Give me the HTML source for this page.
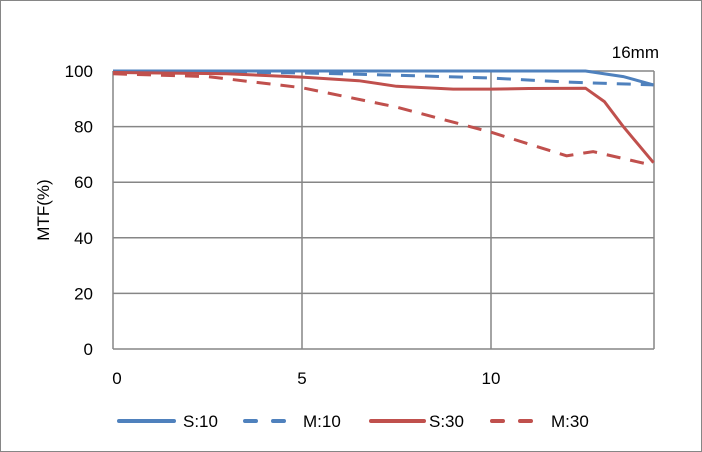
<!DOCTYPE html>
<html><head><meta charset="utf-8"><style>
body{margin:0;background:#fff;font-family:"Liberation Sans",sans-serif}
#c{position:absolute;left:0;top:0;width:700px;height:450px;border:1px solid #868686}
</style></head><body>
<div id="c">
<svg id="s" width="702" height="452" style="position:absolute;left:-1px;top:-1px"></svg>
</div>
<script>
const xTicks=[0,5,10];
const yTicks=[0,20,40,60,80,100];
const xs10=[0,2.5,5,7.5,10,12.5,13.5,14.3];
const s10=[100,100,100,100,100,100,98,95];
const xm10=[0,2.5,5,7.5,10,12,14.3];
const m10=[99.8,99.6,99.3,98.5,97.5,96,95];
const xs30=[0,3,5,6.5,7.5,9,10,11,12.5,13,13.5,14.3];
const s30=[99.5,99,97.8,96.5,94.5,93.5,93.5,93.7,93.8,89,80,67];
const xm30=[0,2.5,5,7.5,10,12,12.7,14.3];
const m30=[99,98,94,87,78,69.5,71,66];
const X=v=>113+v*(491-113)/10;
const Y=v=>349-v*2.78;
const s=document.getElementById('s');
const NS='http://www.w3.org/2000/svg';
function mk(t,a){const e=document.createElementNS(NS,t);for(const k in a)e.setAttribute(k,a[k]);s.appendChild(e);return e;}
yTicks.forEach(v=>{const l=mk('line',{x1:X(0),x2:654,y1:Y(v),y2:Y(v),stroke:'#868686','stroke-width':1.5});


const t=mk('text',{x:93,y:Y(v)+6,'text-anchor':'end','font-size':17,fill:'#000'});t.textContent=v;

});
xTicks.forEach(v=>{const l=mk('line',{x1:X(v),x2:X(v),y1:Y(100),y2:Y(0),stroke:'#868686','stroke-width':1.5});


const t=mk('text',{x:X(v)+(v?0:4),y:384,'text-anchor':'middle','font-size':17});t.textContent=v;

});
const r=mk('line',{x1:654,x2:654,y1:Y(100),y2:Y(0),stroke:'#868686','stroke-width':1.5});


const yt=mk('text',{x:0,y:0,transform:'translate(49,210) rotate(-90)','text-anchor':'middle','font-size':17});yt.textContent='MTF(%)';


const tt=mk('text',{x:659,y:58,'text-anchor':'end','font-size':17});tt.textContent='16mm';


function series(xa,ya,col,dash,name){const d=xa.map((x,i)=>(i?'L':'M')+X(x).toFixed(1)+','+Y(ya[i]).toFixed(1)).join('');
const p=mk('path',{d:d,fill:'none',stroke:col,'stroke-width':3,'stroke-dasharray':dash?'14 10':'none'});

}
series(xs10,s10,'#4f81bd',false,'line-s10');
series(xm10,m10,'#4f81bd',true,'line-m10');
series(xs30,s30,'#c0504d',false,'line-s30');
series(xm30,m30,'#c0504d',true,'line-m30');
const leg=[['S:10','#4f81bd',false,119,174,183],['M:10','#4f81bd',true,245,284,303],['S:30','#c0504d',false,371,424,429],['M:30','#c0504d',true,492,532,551]];
leg.forEach(([n,c,d,x,x2,tx])=>{const l=mk('line',{x1:x,x2:x2,y1:421,y2:421,stroke:c,'stroke-width':4,'stroke-linecap':'round','stroke-dasharray':d?'11 17':'none'});


const t=mk('text',{x:tx,y:427,'font-size':17});t.textContent=n;

});
</script>
</body></html>
